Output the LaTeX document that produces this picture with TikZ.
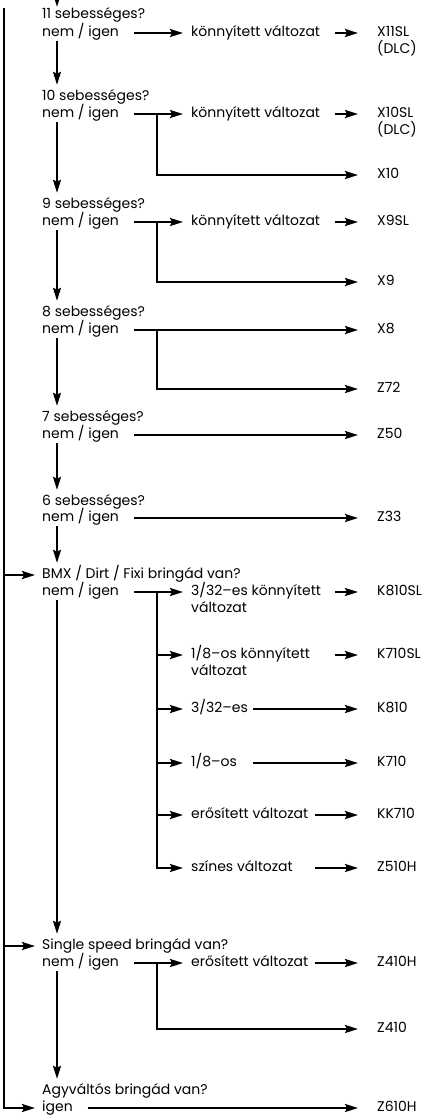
\documentclass[tikz,border=0pt]{standalone}
\usepackage{fontspec}
\setmainfont{Poppins}
\usetikzlibrary{arrows.meta,positioning,calc}

\begin{document}
\begin{tikzpicture}[
  x=1pt, y=-1pt,
  font=\fontsize{14}{17}\selectfont,
  txt/.style={inner sep=0pt, anchor=west, text height=10pt, text depth=4pt},
  arr/.style={-{Stealth[length=13pt,width=8pt,inset=2pt]}, line width=2pt},
  line/.style={line width=2pt},
  down/.style={arr, shorten <=1pt, shorten >=5pt},
  tovar/.style={arr, shorten <=15pt, shorten >=8pt},
  tores/.style={arr, shorten >=19pt},
]
\useasboundingbox (0,0) rectangle (422,1120);

% columns
\coordinate (bar) at (4,8);
\coordinate (sp)  at (57,0);
\coordinate (br)  at (157,0);
\coordinate (mx)  at (253,0);
\coordinate (ex)  at (315,0);
\coordinate (kx)  at (335,0);
\coordinate (top) at (57,-10);

% questions
\node[txt] (q11) at (42,15)   {11 sebességes?};
\node[txt] (a11) at (42,33)   {nem / igen};
\node[txt] (q10) at (42,97)   {10 sebességes?};
\node[txt] (a10) at (42,114)  {nem / igen};
\node[txt] (q9)  at (42,205)  {9 sebességes?};
\node[txt] (a9)  at (42,222)  {nem / igen};
\node[txt] (q8)  at (42,313)  {8 sebességes?};
\node[txt] (a8)  at (42,330)  {nem / igen};
\node[txt] (q7)  at (42,418)  {7 sebességes?};
\node[txt] (a7)  at (42,435)  {nem / igen};
\node[txt] (q6)  at (42,502)  {6 sebességes?};
\node[txt] (a6)  at (42,518)  {nem / igen};
\node[txt] (qB)  at (42,575)  {BMX / Dirt / Fixi bringád van?};
\node[txt] (aB)  at (42,592)  {nem / igen};
\node[txt] (qS)  at (42,946)  {Single speed bringád van?};
\node[txt] (aS)  at (42,963)  {nem / igen};
\node[txt] (qA)  at (42,1091) {Agyváltós bringád van?};
\node[txt] (aA)  at (42,1108) {igen};

% variants
\node[txt] (v11)  at (191,33)  {könnyített változat};
\node[txt] (v10)  at (191,114) {könnyített változat};
\node[txt] (v9)   at (191,222) {könnyített változat};
\node[txt] (vB1)  at (191,592) {3/32–es könnyített};
\node[txt] (vB1b) at (191,609) {változat};
\node[txt] (vB2)  at (191,655) {1/8–os könnyített};
\node[txt] (vB2b) at (191,672) {változat};
\node[txt] (vB3)  at (191,709) {3/32–es};
\node[txt] (vB4)  at (191,763) {1/8–os};
\node[txt] (vB5)  at (191,815) {erősített változat};
\node[txt] (vB6)  at (191,868) {színes változat};
\node[txt] (vS)   at (191,963) {erősített változat};

% results
\node[txt] (r11)  at (377,33)   {X11SL};
\node[txt] (r11b) at (377,50)   {(DLC)};
\node[txt] (r10)  at (377,114)  {X10SL};
\node[txt] (r10b) at (377,131)  {(DLC)};
\node[txt] (r10x) at (377,175)  {X10};
\node[txt] (r9)   at (377,222)  {X9SL};
\node[txt] (r9x)  at (377,282)  {X9};
\node[txt] (r8)   at (377,330)  {X8};
\node[txt] (r8x)  at (377,389)  {Z72};
\node[txt] (r7)   at (377,435)  {Z50};
\node[txt] (r6)   at (377,518)  {Z33};
\node[txt] (rB1)  at (377,592)  {K810SL};
\node[txt] (rB2)  at (377,655)  {K710SL};
\node[txt] (rB3)  at (377,709)  {K810};
\node[txt] (rB4)  at (377,763)  {K710};
\node[txt] (rB5)  at (377,815)  {KK710};
\node[txt] (rB6)  at (377,868)  {Z510H};
\node[txt] (rS)   at (377,963)  {Z410H};
\node[txt] (rSx)  at (377,1029) {Z410};
\node[txt] (rA)   at (377,1108) {Z610H};

% main spine
\draw[arr, shorten >=1pt] (top) -- (q11.north -| sp);
\draw[down] (a11.south -| sp) -- (q10.north -| sp);
\draw[down] (a10.south -| sp) -- (q9.north -| sp);
\draw[down] (a9.south -| sp) -- (q8.north -| sp);
\draw[down] (a8.south -| sp) -- (q7.north -| sp);
\draw[down] (a7.south -| sp) -- (q6.north -| sp);
\draw[down] (a6.south -| sp) -- (qB.north -| sp);
\draw[down] (aB.south -| sp) -- (qS.north -| sp);
\draw[down] (aS.south -| sp) -- (qA.north -| sp);

% left bar
\draw[arr, shorten >=7pt] (bar) |- (aA.west);
\draw[arr, shorten >=7pt] (bar |- qB) -- (qB.west);
\draw[arr, shorten >=7pt] (bar |- qS) -- (qS.west);

% 11
\draw[tovar] (a11.east) -- (v11.west);
\draw[tores] (v11 -| kx) -- (r11.west);
% 10
\draw[tovar] (a10.east) -- (v10.west);
\draw[tores] (v10 -| kx) -- (r10.west);
\draw[tores] (a10 -| br) |- (r10x.west);
% 9
\draw[tovar] (a9.east) -- (v9.west);
\draw[tores] (v9 -| kx) -- (r9.west);
\draw[tores] (a9 -| br) |- (r9x.west);
% 8
\draw[tores, shorten <=15pt] (a8.east) -- (r8.west);
\draw[tores] (a8 -| br) |- (r8x.west);
% 7, 6
\draw[tores, shorten <=15pt] (a7.east) -- (r7.west);
\draw[tores, shorten <=15pt] (a6.east) -- (r6.west);
% BMX
\draw[tovar] (aB.east) -- (vB1.west);
\draw[arr, shorten >=8pt] (aB -| br) |- (vB6.west);
\draw[arr, shorten >=8pt] (vB2 -| br) -- (vB2.west);
\draw[arr, shorten >=8pt] (vB3 -| br) -- (vB3.west);
\draw[arr, shorten >=8pt] (vB4 -| br) -- (vB4.west);
\draw[arr, shorten >=8pt] (vB5 -| br) -- (vB5.west);
\draw[tores] (vB1 -| kx) -- (rB1.west);
\draw[tores] (vB2 -| kx) -- (rB2.west);
\draw[tores] (vB3 -| mx) -- (rB3.west);
\draw[tores] (vB4 -| mx) -- (rB4.west);
\draw[tores] (vB5 -| ex) -- (rB5.west);
\draw[tores] (vB6 -| ex) -- (rB6.west);
% single speed
\draw[tovar] (aS.east) -- (vS.west);
\draw[tores] (vS -| ex) -- (rS.west);
\draw[tores] (aS -| br) |- (rSx.west);
% agyvaltos
\draw[tores, shorten <=15pt] (aA.east) -- (rA.west);
\end{tikzpicture}
\end{document}
